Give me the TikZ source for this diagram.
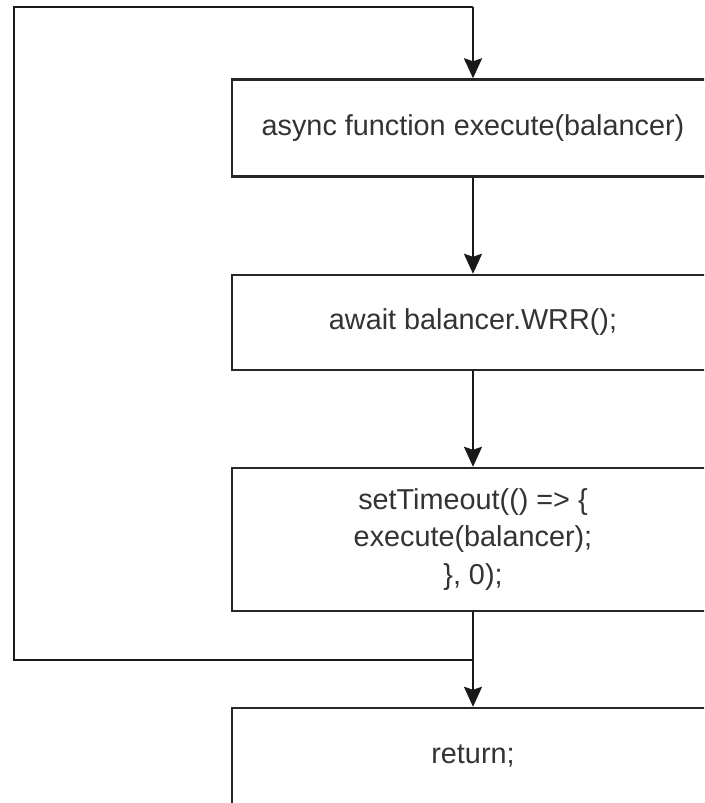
\documentclass[tikz,border=0pt]{standalone}
\usepackage{fontspec}
\setmainfont{Liberation Sans}
\usetikzlibrary{arrows.meta}
\begin{document}
\begin{tikzpicture}[x=1pt,y=-1pt,
  stepbox/.style={draw=black!85, line width=2.4pt, fill=white, minimum width=482pt,
    inner sep=0pt, align=center, font=\fontsize{28.8}{37.5}\selectfont, text=black!80},
  flow/.style={draw=black!90, line width=2.4pt,
    -{Stealth[length=20pt,width=18pt,inset=3pt]}}]
  \useasboundingbox (0,0) rectangle (704,803);
  \clip (0,0) rectangle (704,803);
  % process steps, stacked on one vertical axis
  \node[stepbox, minimum height=97pt] (fn) at (473,128) {async function execute(balancer)};
  \node[stepbox, minimum height=95pt] (wrr) at (473,322.5) {await balancer.WRR();};
  \node[stepbox, minimum height=143pt] (tmo) at (473,539.5) {setTimeout(() => \{\\execute(balancer);\\\}, 0);};
  \node[stepbox, minimum height=97pt] (ret) at (473,756.5) {return;};
  % loop back from the timeout to the function entry
  \coordinate (join) at (473,660);
  \coordinate (lb) at (14,660);
  \coordinate (lt) at (14,7);
  \coordinate (rt) at (473,7);
  \draw[draw=black!90, line width=2.4pt] (join) -- (lb) -- (lt) -- (rt);
  \draw[flow] (rt) -- (fn.north);
  % main flow
  \draw[flow] (fn) -- (wrr);
  \draw[flow] (wrr) -- (tmo);
  \draw[flow] (tmo) -- (ret);
\end{tikzpicture}
\end{document}
